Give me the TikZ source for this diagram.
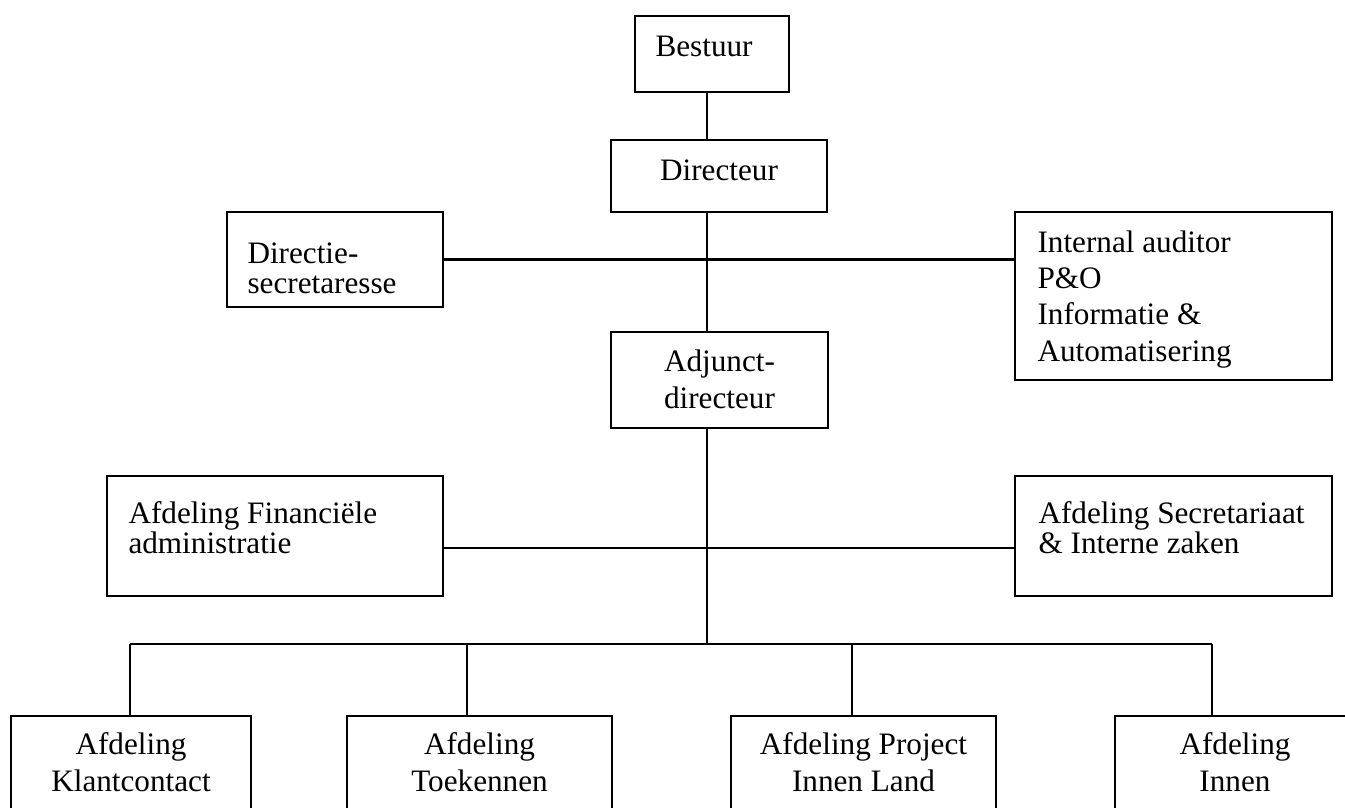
\documentclass[tikz,border=0pt]{standalone}
\usepackage{fontspec}
\setmainfont{Liberation Serif}
\usetikzlibrary{fit}

\tikzset{
  box/.style={draw, line width=0.8pt, inner sep=0pt},
  txt/.style={inner sep=0pt, align=left, font=\fontsize{12}{13.85}\selectfont},
  tight/.style={font=\fontsize{12}{11.35}\selectfont},
  mid/.style={align=center},
  link/.style={line width=0.8pt},
}

\begin{document}
\begin{tikzpicture}[x=0.3846pt, y=-0.3846pt]
  \useasboundingbox (0,0) rectangle (1345,807);
  \clip (0,0) rectangle (1345,807);

  % boxes
  \node[box, fit={(635,16) (789,92)}] (bestuur) {};
  \node[box, fit={(611,140) (827,212)}] (directeur) {};
  \node[box, fit={(227,212) (443,307)}] (dirsec) {};
  \node[box, fit={(1015,212) (1332,380)}] (staf) {};
  \node[box, fit={(611,332) (828,428)}] (adjunct) {};
  \node[box, fit={(107,476) (443,596)}] (finadm) {};
  \node[box, fit={(1015,476) (1332,596)}] (secint) {};
  \node[box, fit={(11,716) (251,840)}] (klant) {};
  \node[box, fit={(347,716) (612,840)}] (toek) {};
  \node[box, fit={(731,716) (996,840)}] (project) {};
  \node[box, fit={(1115,716) (1360,840)}] (innen) {};

  % texts (base = last line)
  \node[txt, anchor=base west] (bestuur-t) at (655,57) {Bestuur};
  \node[txt, mid, anchor=base] (directeur-t) at (719,180) {Directeur};
  \node[txt, tight, anchor=base west] (dirsec-t) at (247,293) {Directie-\\secretaresse};
  \node[txt, anchor=base west] (staf-t) at (1037,361)
    {Internal auditor\\P\&O\\Informatie \&\\Automatisering};
  \node[txt, mid, anchor=base] (adjunct-t) at (719.5,408) {Adjunct-\\directeur};
  \node[txt, tight, anchor=base west] (finadm-t) at (128,553)
    {Afdeling Financiële\\administratie};
  \node[txt, tight, anchor=base west] (secint-t) at (1038,553)
    {Afdeling Secretariaat\\\& Interne zaken};
  \node[txt, mid, anchor=base] (klant-t) at (131,791) {Afdeling\\Klantcontact};
  \node[txt, mid, anchor=base] (toek-t) at (479.5,791) {Afdeling\\Toekennen};
  \node[txt, mid, anchor=base] (project-t) at (863.5,791) {Afdeling Project\\Innen Land};
  \node[txt, mid, anchor=base] (innen-t) at (1235,791) {Afdeling\\Innen};

  % connectors
  \coordinate (spine) at (707,0);
  \coordinate (bar) at (707,644);
  \coordinate (d1) at (130,644);
  \coordinate (d2) at (467,644);
  \coordinate (d3) at (852,644);
  \coordinate (d4) at (1212,644);
  \draw[link] (bestuur.south -| spine) -- (directeur.north -| spine);
  \draw[link] (directeur.south -| spine) -- (adjunct.north -| spine);
  \draw[link] (adjunct.south -| spine) -- (bar);
  \draw[link] (dirsec.east) -- (dirsec.east -| staf.west);
  \draw[link] ([shift={(0,12)}]finadm.east) -- ([shift={(0,12)}]finadm.east -| secint.west);
  \draw[link] (d1) -- (d4);
  \foreach \d/\b in {d1/klant, d2/toek, d3/project, d4/innen}
    \draw[link] (\d) -- (\d |- \b.north);
\end{tikzpicture}
\end{document}
